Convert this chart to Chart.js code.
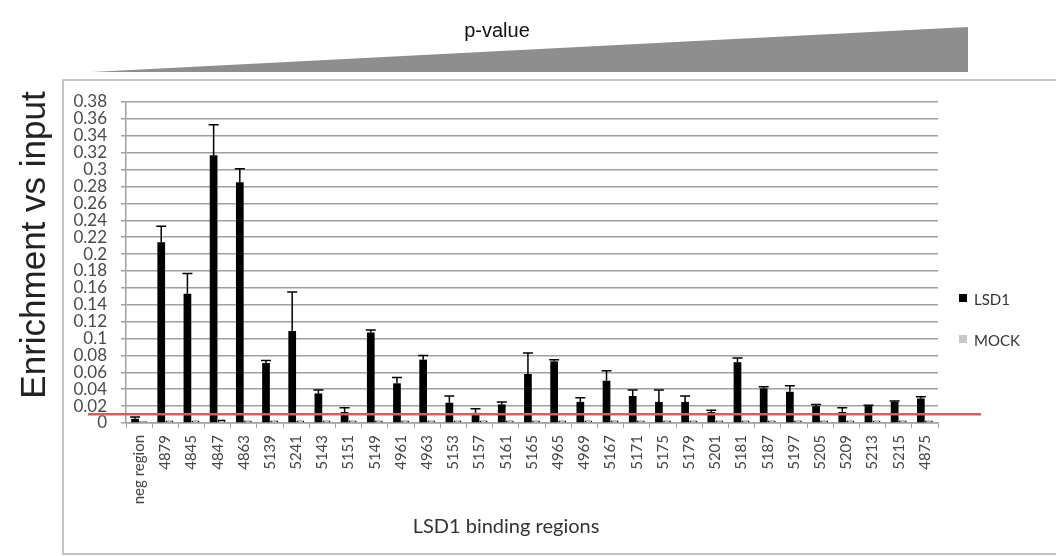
<!DOCTYPE html>
<html>
<head>
<meta charset="utf-8">
<script src="https://cdn.jsdelivr.net/npm/chart.js@4/dist/chart.umd.min.js"></script>
<style>
  html, body { margin: 0; padding: 0; background: #fff; }
  #wrap { width: 1056px; height: 556px; }
</style>
</head>
<body>
<div id="wrap"><canvas id="myChart" width="1056" height="556"></canvas></div>
<script>
// regions, ordered by p-value
var regions = ['neg region', '4879', '4845', '4847', '4863', '5139', '5241', '5143', '5151', '5149',
    '4961', '4963', '5153', '5157', '5161', '5165', '4965', '4969', '5167', '5171',
    '5175', '5179', '5201', '5181', '5187', '5197', '5205', '5209', '5213', '5215', '4875'];

var lsd1 = [0.005, 0.214, 0.153, 0.317, 0.285, 0.071, 0.109, 0.035, 0.013, 0.107,
    0.047, 0.075, 0.024, 0.012, 0.022, 0.058, 0.073, 0.025, 0.050, 0.032,
    0.025, 0.025, 0.013, 0.072, 0.041, 0.037, 0.020, 0.013, 0.020, 0.025, 0.029];

// upper error (added on top of the bar)
var lsd1Err = [0.002, 0.019, 0.024, 0.036, 0.016, 0.003, 0.046, 0.004, 0.005, 0.003,
    0.007, 0.005, 0.008, 0.005, 0.003, 0.025, 0.002, 0.005, 0.012, 0.007,
    0.014, 0.007, 0.002, 0.005, 0.002, 0.007, 0.002, 0.005, 0.001, 0.001, 0.002];

var mock = [0.002, 0.003, 0.003, 0.004, 0.003, 0.003, 0.003, 0.003, 0.003, 0.003,
    0.003, 0.003, 0.003, 0.003, 0.003, 0.003, 0.003, 0.003, 0.003, 0.003,
    0.003, 0.003, 0.003, 0.003, 0.003, 0.003, 0.003, 0.003, 0.003, 0.003, 0.003];

var yMax = 0.38;
var yStep = 0.02;
var cutoff = 0.0105; // background threshold line

var labelFont = 'Lato, "Open Sans", sans-serif';

var extras = {
    id: 'extras',
    beforeDraw: function(chart) {
        var ctx = chart.ctx;
        ctx.save();
        // outer frame
        ctx.strokeStyle = '#c4c4c4';
        ctx.lineWidth = 2;
        ctx.strokeRect(63, 80, 1010, 474);
        // p-value wedge
        ctx.fillStyle = '#8e8e8e';
        ctx.beginPath();
        ctx.moveTo(92, 72);
        ctx.lineTo(968, 27);
        ctx.lineTo(968, 72);
        ctx.closePath();
        ctx.fill();
        ctx.fillStyle = '#111';
        ctx.font = '20px "Liberation Sans", Arial, sans-serif';
        ctx.textAlign = 'center';
        ctx.textBaseline = 'middle';
        ctx.fillText('p-value', 497, 31);
        ctx.restore();
    },
    afterDatasetsDraw: function(chart) {
        var ctx = chart.ctx;
        var y = chart.scales.y;
        var meta = chart.getDatasetMeta(0);
        ctx.save();
        ctx.strokeStyle = '#000';
        ctx.lineWidth = 1.5;
        meta.data.forEach(function(bar, i) {
            var top = y.getPixelForValue(lsd1[i] + lsd1Err[i]);
            ctx.beginPath();
            ctx.moveTo(bar.x, bar.y);
            ctx.lineTo(bar.x, top);
            ctx.moveTo(bar.x - 5, top);
            ctx.lineTo(bar.x + 5, top);
            ctx.stroke();
        });
        // threshold line
        var ly = y.getPixelForValue(cutoff);
        ctx.strokeStyle = '#d2605a';
        ctx.lineWidth = 2.5;
        ctx.beginPath();
        ctx.moveTo(chart.chartArea.left - 38, ly);
        ctx.lineTo(chart.chartArea.right + 43, ly);
        ctx.stroke();
        ctx.restore();
    },
    afterDraw: function(chart) {
        var ctx = chart.ctx;
        var area = chart.chartArea;
        ctx.save();
        // axis titles
        ctx.fillStyle = '#222';
        ctx.font = '35px "Liberation Sans", Arial, sans-serif';
        ctx.textAlign = 'center';
        ctx.textBaseline = 'middle';
        ctx.translate(35, 245);
        ctx.rotate(-Math.PI / 2);
        ctx.fillText('Enrichment vs input', 0, 0);
        ctx.restore();

        ctx.save();
        ctx.fillStyle = '#333';
        ctx.font = '20px ' + labelFont;
        ctx.textAlign = 'center';
        ctx.textBaseline = 'middle';
        ctx.fillText('LSD1 binding regions', 506, 527);

        // legend
        ctx.font = '15px ' + labelFont;
        ctx.textAlign = 'left';
        chart.data.datasets.forEach(function(ds, i) {
            var ly = 299 + i * 41;
            ctx.fillStyle = ds.legendColor;
            ctx.fillRect(area.right + 21, ly - 5, 8, 8);
            ctx.fillStyle = '#333';
            ctx.fillText(ds.label, area.right + 36, ly + 1);
        });
        ctx.restore();
    }
};

var ctx = document.getElementById('myChart').getContext('2d');
var myChart = new Chart(ctx, {
    type: 'bar',
    data: {
        labels: regions,
        datasets: [{
            label: 'LSD1',
            data: lsd1,
            backgroundColor: '#000',
            legendColor: '#000',
            categoryPercentage: 0.62,
            barPercentage: 0.95
        }, {
            label: 'MOCK',
            data: mock,
            backgroundColor: '#bdbdbd',
            borderColor: '#000',
            borderWidth: 1.5,
            legendColor: '#c8c8c8',
            categoryPercentage: 0.62,
            barPercentage: 0.95
        }]
    },
    options: {
        responsive: false,
        animation: false,
        layout: {
            padding: { left: 66, right: 118, top: 102, bottom: 0 }
        },
        plugins: {
            legend: { display: false },
            tooltip: { enabled: false }
        },
        scales: {
            x: {
                offset: true,
                grid: {
                    display: true,
                    offset: true,
                    drawOnChartArea: false,
                    color: '#a0a0a0',
                    tickLength: 5
                },
                border: { color: '#a0a0a0', width: 1.5 },
                ticks: {
                    color: '#444',
                    font: { family: labelFont, size: 15 },
                    minRotation: 90,
                    maxRotation: 90,
                    autoSkip: false,
                    padding: 7
                },
                afterFit: function(scale) { scale.height = 133; }
            },
            y: {
                min: 0,
                max: yMax,
                grid: {
                    color: '#a0a0a0',
                    lineWidth: 1.5,
                    tickLength: 5
                },
                border: { color: '#a0a0a0', width: 1.5 },
                ticks: {
                    stepSize: yStep,
                    autoSkip: false,
                    color: '#4a4a4a',
                    font: { family: labelFont, size: 17 },
                    padding: 14,
                    callback: function(v) { return String(Number(v.toFixed(2))); }
                },
                afterFit: function(scale) { scale.width = 60; }
            }
        }
    },
    plugins: [extras]
});
</script>
</body>
</html>
